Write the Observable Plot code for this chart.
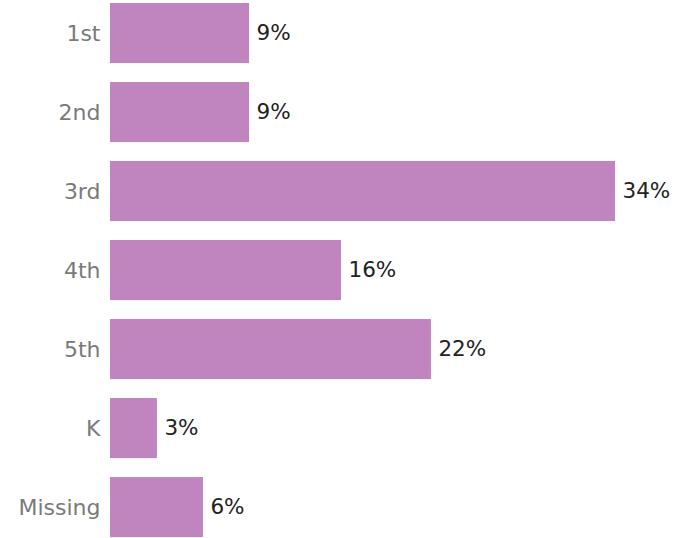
<!DOCTYPE html>
<html>
<head>
<meta charset="utf-8">
<script src="https://cdn.jsdelivr.net/npm/d3@7"></script>
<script src="https://cdn.jsdelivr.net/npm/@observablehq/plot@0.6"></script>
<style>
  html, body { margin: 0; padding: 0; background: #fff; }
  #chart { width: 688px; height: 538px; }
</style>
</head>
<body>
<div id="chart"></div>
<script>
const grades = ["1st", "2nd", "3rd", "4th", "5th", "K", "Missing"];
const shares = [9.43, 9.43, 34.24, 15.66, 21.76, 3.18, 6.30];

const data = grades.map((g, i) => ({grade: g, share: shares[i]}));

const chart = Plot.plot({
  width: 688,
  height: 538,
  marginLeft: 110,
  marginRight: 73,
  marginTop: 3,
  marginBottom: 0.9,
  style: {fontFamily: "DejaVu Sans, sans-serif", background: "#fff"},
  x: {domain: [0, 34.24], axis: null},
  y: {domain: grades, paddingInner: 0.24, paddingOuter: 0, round: false, label: null},
  marks: [
    Plot.barX(data, {x: "share", y: "grade", fill: "#c084be"}),
    Plot.text(data, {
      x: "share", y: "grade",
      text: d => Math.round(d.share) + "%",
      textAnchor: "start", dx: 7,
      fontSize: 21.5, fill: "#222"
    }),
    Plot.axisY({tickSize: 0, tickPadding: 10, fontSize: 22, color: "#7a7a7a", label: null})
  ]
});
document.getElementById("chart").appendChild(chart);
</script>
</body>
</html>
